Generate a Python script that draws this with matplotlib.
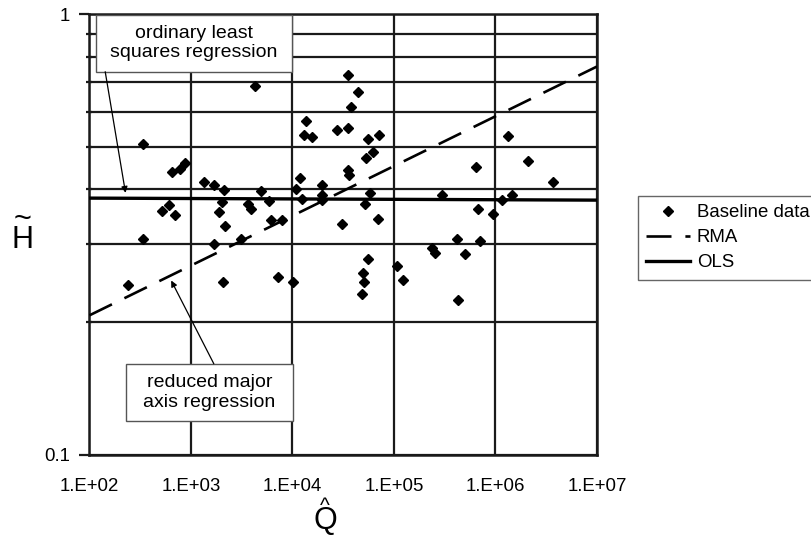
import matplotlib

matplotlib.use("Agg")
import matplotlib.pyplot as plt
from matplotlib.patches import Rectangle
from matplotlib.ticker import FixedLocator, NullFormatter, NullLocator

plt.rcParams['font.family'] = ['Liberation Sans', 'DejaVu Sans']
plt.rcParams['lines.scale_dashes'] = False

# baseline data points
q_hat = [4.32e3, 3.56e4, 4.44e4, 3.78e4, 1.37e4, 1.31e4, 1.56e4, 2.73e4,
         3.51e4, 5.57e4, 7.08e4, 340, 6.18e4, 5.27e4, 653, 783, 869,
         3.56e4, 3.62e4, 1.19e4, 1.34e3, 1.68e3, 2.12e3, 4.92e3, 1.08e4,
         1.95e4, 1.95e4, 1.24e4, 1.94e4, 5.74e4, 2.01e3, 5.81e3, 3.66e3,
         3.94e3, 520, 614, 692, 1.90e3, 2.14e3, 6.11e3, 7.93e3, 3.11e4,
         5.15e4, 6.98e4, 1.32e6, 6.40e5, 2.11e6, 3.70e6, 2.96e5, 1.47e6,
         1.15e6, 6.70e5, 9.48e5, 340, 1.69e3, 3.08e3, 5.57e4, 7.23e3,
         1.02e4, 2.07e3, 4.93e4, 5.05e4, 4.82e4, 240, 4.20e5, 7.11e5,
         2.36e5, 2.55e5, 5.02e5, 1.07e5, 1.22e5, 4.32e5]
h_tilde = [0.687, 0.727, 0.666, 0.614, 0.573, 0.532, 0.527, 0.546,
           0.551, 0.519, 0.531, 0.507, 0.486, 0.472, 0.438, 0.445, 0.458,
           0.443, 0.431, 0.425, 0.415, 0.409, 0.398, 0.396, 0.400,
           0.409, 0.388, 0.381, 0.378, 0.392, 0.374, 0.377, 0.371,
           0.360, 0.358, 0.369, 0.350, 0.355, 0.331, 0.341, 0.340, 0.334,
           0.370, 0.342, 0.529, 0.450, 0.463, 0.415, 0.389, 0.389,
           0.379, 0.361, 0.351, 0.308, 0.301, 0.308, 0.278, 0.253,
           0.247, 0.247, 0.258, 0.247, 0.232, 0.242, 0.309, 0.306,
           0.295, 0.287, 0.285, 0.268, 0.249, 0.224]

# regression lines (end points)
fit_q = [1e2, 1e7]
rma_h = [0.207, 0.760]
ols_h = [0.382, 0.378]

x_ticks = [1e2, 1e3, 1e4, 1e5, 1e6, 1e7]
x_tick_labels = ['1.E+02', '1.E+03', '1.E+04', '1.E+05', '1.E+06', '1.E+07']
y_ticks = [0.1, 1]
y_tick_labels = ['0.1', '1']
y_minor = [0.2, 0.3, 0.4, 0.5, 0.6, 0.7, 0.8, 0.9]

grid_col = '#1a1a1a'

fig = plt.figure(figsize=(8.12, 5.37), dpi=100)
ax = fig.add_axes([0.1102, 0.1536, 0.6250, 0.8203])
ax.set_xscale('log')
ax.set_yscale('log')
ax.set_xlim(1e2, 1e7)
ax.set_ylim(0.1, 1)

ax.set_xticks(x_ticks, x_tick_labels)
ax.xaxis.set_minor_locator(NullLocator())
ax.set_yticks(y_ticks, y_tick_labels)
ax.yaxis.set_minor_locator(FixedLocator(y_minor))
ax.yaxis.set_minor_formatter(NullFormatter())

ax.set_axisbelow(True)
ax.grid(True, which='major', axis='both', color=grid_col, lw=1.6)
ax.grid(True, which='minor', axis='y', color=grid_col, lw=1.6)
for sp in ax.spines.values():
    sp.set_color(grid_col)
    sp.set_linewidth(1.8)

ax.tick_params(axis='x', length=0, pad=17, labelsize=13.4)
ax.tick_params(axis='y', which='major', length=7, width=1.6, pad=7,
               labelsize=13.4, color=grid_col)
ax.tick_params(axis='y', which='minor', length=5, width=1.6,
               direction='inout', color=grid_col)

# data and fitted lines
ax.plot(q_hat, h_tilde, 'D', ms=5.5, color='black', lw=0,
        label='Baseline data', zorder=4)
ax.plot(fit_q, rma_h, color='black', lw=1.9, dashes=(18, 10),
        label='RMA', zorder=3)
ax.plot(fit_q, ols_h, color='black', lw=2.4, label='OLS', zorder=3)

# annotation boxes
box_kw = dict(transform=ax.transAxes, facecolor='white', edgecolor='#555555',
              lw=1.0, zorder=6)
ax.add_patch(Rectangle((0.012, 0.869), 0.388, 0.129, **box_kw))
ax.text(0.206, 0.934, 'ordinary least\nsquares regression', transform=ax.transAxes,
        ha='center', va='center', fontsize=14, zorder=7)
ax.add_patch(Rectangle((0.071, 0.0755), 0.330, 0.130, **box_kw))
ax.text(0.236, 0.141, 'reduced major\naxis regression', transform=ax.transAxes,
        ha='center', va='center', fontsize=14, zorder=7)

arrow_kw = dict(arrowstyle='-|>', color='black', lw=0.9, mutation_scale=9,
                shrinkA=0, shrinkB=0)
ax.annotate('', xy=(0.071, 0.594), xytext=(0.031, 0.869),
            xycoords='axes fraction', arrowprops=arrow_kw, zorder=7)
ax.annotate('', xy=(0.161, 0.395), xytext=(0.245, 0.206),
            xycoords='axes fraction', arrowprops=arrow_kw, zorder=7)

# axis titles: letter plus accent drawn on top of it
ax.text(-0.131, 0.469, 'H', transform=ax.transAxes, ha='center',
        va='baseline', fontsize=22)
ax.text(-0.131, 0.5135, '~', transform=ax.transAxes, ha='center',
        va='baseline', fontsize=22)
ax.text(0.464, -0.170, 'Q', transform=ax.transAxes, ha='center',
        va='baseline', fontsize=22)
ax.text(0.464, -0.130, '^', transform=ax.transAxes, ha='center',
        va='baseline', fontsize=15)

leg = fig.legend(loc='upper left', bbox_to_anchor=(638 / 812, 1 - 196 / 537),
                 fontsize=13.4, frameon=True, fancybox=False,
                 edgecolor='#666666', framealpha=1, borderpad=0.45,
                 borderaxespad=0, handlelength=2.36, handletextpad=0.35,
                 labelspacing=0.43)
leg.get_frame().set_linewidth(1.0)

fig.savefig('out.png', dpi=100)
